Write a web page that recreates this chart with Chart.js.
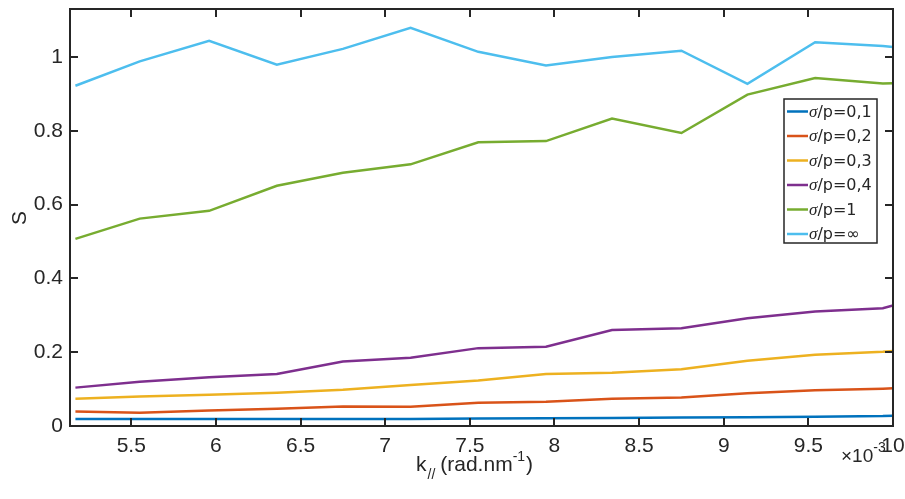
<!DOCTYPE html>
<html>
<head>
<meta charset="utf-8">
<script src="https://cdn.jsdelivr.net/npm/chart.js@4"></script>
<style>
html,body{margin:0;padding:0;background:#fff;}
canvas{display:block;}
</style>
</head>
<body>
<canvas id="c" width="905" height="499"></canvas>
<script>
// ---- data (x in units of 1e-3 rad/nm) ----
const kValues = [5.17, 5.55, 5.96, 6.36, 6.75, 7.15, 7.55, 7.95, 8.34, 8.75, 9.14, 9.54, 9.94, 10.0];
const s01 = [0.019,0.019,0.019,0.019,0.019,0.019,0.020,0.021,0.022,0.023,0.024,0.025,0.027,0.028];
const s02 = [0.039,0.036,0.042,0.047,0.053,0.052,0.063,0.066,0.074,0.077,0.089,0.097,0.101,0.102];
const s03 = [0.074,0.080,0.085,0.090,0.098,0.111,0.123,0.141,0.144,0.154,0.177,0.193,0.201,0.203];
const s04 = [0.104,0.120,0.132,0.141,0.175,0.185,0.211,0.215,0.260,0.265,0.292,0.310,0.319,0.327];
const s1  = [0.507,0.562,0.583,0.651,0.686,0.709,0.769,0.772,0.833,0.794,0.898,0.943,0.928,0.929];
const sInf= [0.922,0.988,1.044,0.979,1.022,1.079,1.014,0.977,1.000,1.017,0.927,1.040,1.030,1.027];
const seriesNames = ['0,1','0,2','0,3','0,4','1','\u221E'];
const xTicks = [5.5, 6, 6.5, 7, 7.5, 8, 8.5, 9, 9.5, 10];
const yTicks = [0, 0.2, 0.4, 0.6, 0.8, 1];

const colors = ['#0072BD','#D95319','#EDB120','#7E2F8E','#77AC30','#4DBEEE'];
const allSeries = [s01, s02, s03, s04, s1, sInf];

const datasets = allSeries.map((s, i) => ({
  label: '\u03C3/p=' + seriesNames[i],
  data: kValues.map((x, j) => ({x: x, y: s[j]})),
  borderColor: colors[i],
  backgroundColor: colors[i],
  borderWidth: 2.5,
  pointRadius: 0,
  tension: 0,
  fill: false
}));

const AX = '#262626';
const FONT = '"Liberation Sans", Arial, sans-serif';
const LFONT = '"DejaVu Sans", sans-serif';

const decor = {
  id: 'decor',
  afterDraw(chart) {
    const ctx = chart.ctx;
    const a = chart.chartArea;
    const xs = chart.scales.x, ys = chart.scales.y;
    ctx.save();
    // box
    ctx.strokeStyle = AX;
    ctx.lineWidth = 2;
    ctx.strokeRect(a.left, a.top, a.right - a.left, a.bottom - a.top);
    // inward ticks
    const tl = 8;
    ctx.beginPath();
    xTicks.forEach(v => {
      const px = Math.round(xs.getPixelForValue(v));
      ctx.moveTo(px, a.bottom); ctx.lineTo(px, a.bottom - tl);
      ctx.moveTo(px, a.top); ctx.lineTo(px, a.top + tl);
    });
    yTicks.forEach(v => {
      const py = Math.round(ys.getPixelForValue(v));
      ctx.moveTo(a.left, py); ctx.lineTo(a.left + tl, py);
      ctx.moveTo(a.right, py); ctx.lineTo(a.right - tl, py);
    });
    ctx.stroke();

    // y title
    ctx.fillStyle = AX;
    ctx.save();
    ctx.translate(20, 218);
    ctx.rotate(-Math.PI / 2);
    ctx.font = '21px ' + FONT;
    ctx.textAlign = 'center';
    ctx.textBaseline = 'middle';
    ctx.fillText('S', 0, 0);
    ctx.restore();

    // x title: k_{//} (rad.nm^{-1})
    ctx.textBaseline = 'alphabetic';
    ctx.textAlign = 'left';
    let x = 416, base = 471;
    ctx.font = '21px ' + FONT;
    ctx.fillText('k', x, base); x += ctx.measureText('k').width + 1;
    ctx.font = '14px ' + FONT;
    ctx.fillText('//', x, base + 8); x += ctx.measureText('//').width + 5;
    ctx.font = '21px ' + FONT;
    ctx.fillText('(rad.nm', x, base); x += ctx.measureText('(rad.nm').width;
    ctx.font = '14px ' + FONT;
    ctx.fillText('-1', x, base - 10); x += ctx.measureText('-1').width + 1;
    ctx.font = '21px ' + FONT;
    ctx.fillText(')', x, base);

    // exponent x10^-3
    x = 841; base = 462;
    ctx.font = '19px ' + FONT;
    ctx.fillText('\u00D710', x, base); x += ctx.measureText('\u00D710').width;
    ctx.font = '14px ' + FONT;
    ctx.fillText('-3', x, base - 10);

    // legend
    const lx = 784, ly = 99, lw = 93, lh = 144;
    ctx.fillStyle = '#fff';
    ctx.fillRect(lx, ly, lw, lh);
    ctx.strokeStyle = AX;
    ctx.lineWidth = 1.5;
    ctx.strokeRect(lx, ly, lw, lh);
    chart.data.datasets.forEach((ds, i) => {
      const yy = 111.5 + i * 24.5;
      ctx.strokeStyle = ds.borderColor;
      ctx.lineWidth = 2.5;
      ctx.beginPath();
      ctx.moveTo(787, yy); ctx.lineTo(808, yy);
      ctx.stroke();
      ctx.fillStyle = AX;
      let tx = 809;
      ctx.font = 'italic 17px "Liberation Serif"';
      ctx.textBaseline = 'middle';
      ctx.fillText('\u03C3', tx, yy + 1); tx += ctx.measureText('\u03C3').width;
      ctx.font = '16px ' + LFONT;
      ctx.fillText('/p=' + seriesNames[i], tx, yy + 1);
    });
    ctx.restore();
  }
};

new Chart(document.getElementById('c'), {
  type: 'line',
  data: { datasets: datasets },
  options: {
    responsive: false,
    animation: false,
    devicePixelRatio: 1,
    layout: { padding: { top: 9, right: 12, left: 0, bottom: 0 } },
    plugins: { legend: { display: false }, tooltip: { enabled: false } },
    scales: {
      x: {
        type: 'linear',
        min: 5.138, max: 10,
        grid: { display: false, drawTicks: false },
        border: { display: false },
        afterBuildTicks: s => { s.ticks = xTicks.map(v => ({ value: v })); },
        afterFit: s => { s.height = 73; s.paddingLeft = 0; s.paddingRight = 0; },
        ticks: {
          color: AX, font: { family: FONT, size: 21 }, padding: 8, maxRotation: 0, autoSkip: false,
          callback: v => String(v)
        }
      },
      y: {
        type: 'linear',
        min: 0, max: 1.13,
        grid: { display: false, drawTicks: false },
        border: { display: false },
        afterBuildTicks: s => { s.ticks = yTicks.map(v => ({ value: v })); },
        afterFit: s => { s.width = 70; s.paddingTop = 0; s.paddingBottom = 0; },
        ticks: {
          color: AX, font: { family: FONT, size: 21 }, padding: 7, autoSkip: false,
          callback: v => String(v)
        }
      }
    }
  },
  plugins: [decor]
});
</script>
</body>
</html>
